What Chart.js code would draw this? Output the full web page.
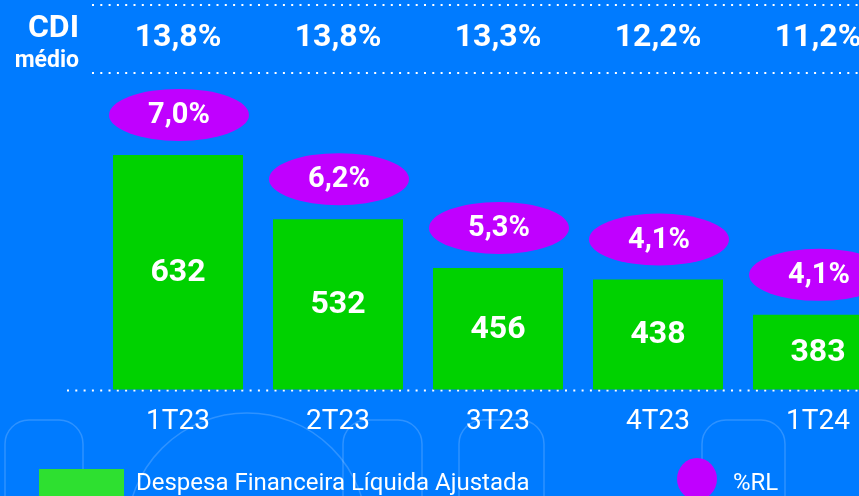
<!DOCTYPE html>
<html>
<head>
<meta charset="utf-8">
<script src="https://cdn.jsdelivr.net/npm/chart.js@4"></script>
<style>
  html, body { margin: 0; padding: 0; background: #007bff; overflow: hidden; }
  #wrap { position: relative; width: 900px; height: 496px; }
</style>
</head>
<body>
<div id="wrap"><canvas id="bar-chart" width="900" height="496"></canvas></div>
<script>
const quarters = ['1T23', '2T23', '3T23', '4T23', '1T24'];
const despesa = [632, 532, 456, 438, 383];
const pctRL = ['7,0%', '6,2%', '5,3%', '4,1%', '4,1%'];
const cdiMedio = ['13,8%', '13,8%', '13,3%', '12,2%', '11,2%'];

const WHITE = '#ffffff';
const GREEN = '#00d200';
const PURPLE = '#c000ff';

const dotted = (ctx, x1, x2, y) => {
  ctx.save();
  ctx.strokeStyle = WHITE;
  ctx.lineWidth = 2;
  ctx.setLineDash([2, 6.3]);
  ctx.beginPath();
  ctx.moveTo(x1, y);
  ctx.lineTo(x2, y);
  ctx.stroke();
  ctx.restore();
};

// faint background outlines
const backdrop = {
  id: 'backdrop',
  beforeDraw(chart) {
    const { ctx } = chart;
    ctx.save();
    ctx.strokeStyle = 'rgba(255,255,255,0.18)';
    ctx.lineWidth = 1.5;
    [[5, 83], [343, 422], [459, 544], [702, 785]].forEach(([a, b]) => {
      ctx.beginPath();
      ctx.roundRect(a, 420, b - a, 120, 24);
      ctx.stroke();
    });
    ctx.beginPath();
    ctx.arc(247, 533, 120, Math.PI, Math.PI * 2);
    ctx.stroke();
    ctx.restore();
  }
};

const extras = {
  id: 'extras',
  beforeDatasetsDraw(chart) {
    const { ctx, chartArea } = chart;
    // dotted guides
    dotted(ctx, 92, 900, 5);
    dotted(ctx, 92, 900, 73);
    dotted(ctx, 67, 900, chartArea.bottom + 1);

    // CDI row
    ctx.save();
    ctx.fillStyle = WHITE;
    ctx.textAlign = 'right';
    ctx.textBaseline = 'middle';
    ctx.font = 'bold 32px Roboto';
    ctx.fillText('CDI', 79, 29);
    ctx.font = 'bold 23px Roboto';
    ctx.fillText('médio', 79, 61);
    ctx.textAlign = 'center';
    ctx.font = 'bold 32px Roboto';
    const xs = chart.scales.x;
    cdiMedio.forEach((v, i) => {
      ctx.fillText(v, xs.getPixelForValue(i), 38);
    });
    ctx.restore();
  },
  afterDatasetsDraw(chart) {
    const { ctx, chartArea } = chart;
    const meta = chart.getDatasetMeta(0);
    ctx.save();
    ctx.textAlign = 'center';
    ctx.textBaseline = 'middle';
    meta.data.forEach((bar, i) => {
      // value inside bar
      ctx.fillStyle = WHITE;
      ctx.font = 'bold 32px Roboto';
      ctx.fillText(String(despesa[i]), bar.x, (bar.y + chartArea.bottom) / 2 + 1);
      // %RL ellipse
      const cy = bar.y - 40;
      ctx.fillStyle = PURPLE;
      ctx.beginPath();
      ctx.ellipse(bar.x + 1, cy, 70, 26, 0, 0, Math.PI * 2);
      ctx.fill();
      ctx.fillStyle = WHITE;
      ctx.font = 'bold 29px Roboto';
      ctx.fillText(pctRL[i], bar.x + 1, cy + 1);
    });

    // legend
    ctx.fillStyle = '#2ee030';
    ctx.fillRect(39, 469, 85, 30);
    ctx.fillStyle = WHITE;
    ctx.textAlign = 'left';
    ctx.font = '24px Roboto';
    ctx.fillText(chart.data.datasets[0].label, 136, 484);
    ctx.fillStyle = PURPLE;
    ctx.beginPath();
    ctx.ellipse(697, 479, 20, 21, 0, 0, Math.PI * 2);
    ctx.fill();
    ctx.fillStyle = WHITE;
    ctx.fillText('%RL', 733, 484);
    ctx.restore();
  }
};

new Chart(document.getElementById('bar-chart'), {
  type: 'bar',
  data: {
    labels: quarters,
    datasets: [
      {
        label: 'Despesa Financeira Líquida Ajustada',
        data: despesa,
        backgroundColor: GREEN,
        borderWidth: 0,
        categoryPercentage: 1,
        barPercentage: 0.8125,
      },
    ],
  },
  options: {
    responsive: false,
    animation: false,
    devicePixelRatio: 1,
    layout: { padding: { left: 98, right: 2, top: 90, bottom: 49 } },
    plugins: { legend: { display: false }, tooltip: { enabled: false } },
    scales: {
      x: {
        grid: { display: false },
        border: { display: false },
        ticks: { color: WHITE, font: { family: 'Roboto', size: 28 }, padding: 8 },
      },
      y: {
        display: false,
        min: 267,
        max: 733,
      },
    },
  },
  plugins: [backdrop, extras],
});
</script>
</body>
</html>
